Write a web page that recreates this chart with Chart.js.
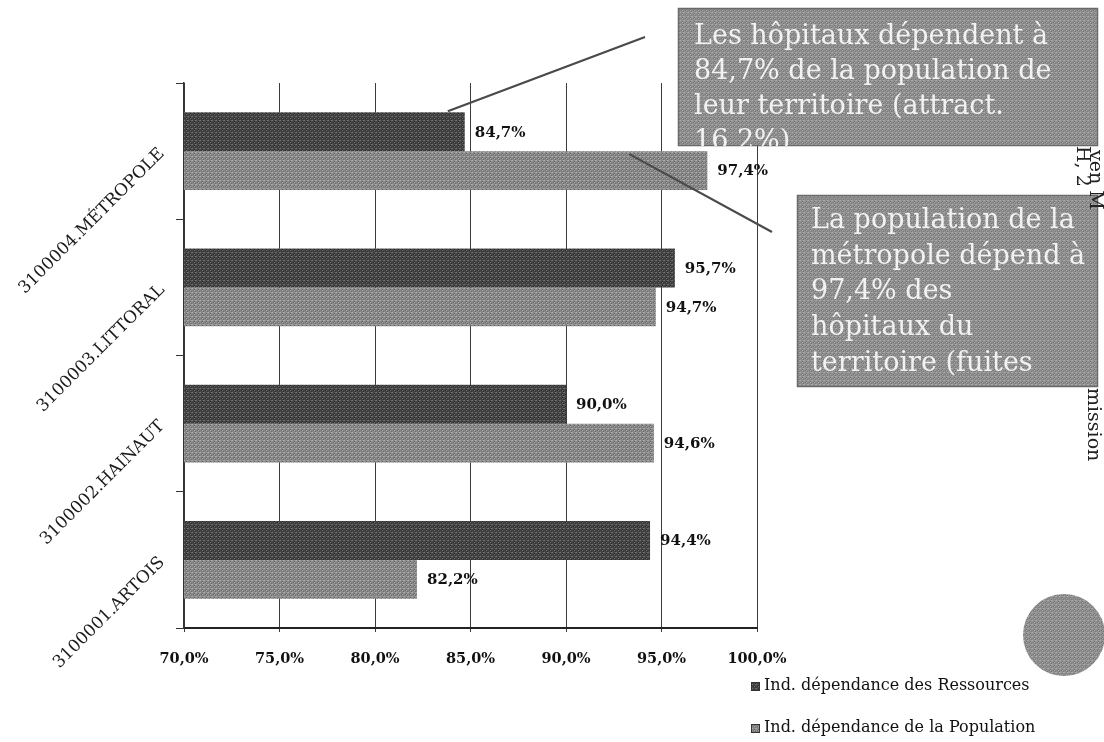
<!DOCTYPE html>
<html lang="fr">
<head>
<meta charset="utf-8">
<title>Indices de dépendance par territoire</title>
<script src="https://cdn.jsdelivr.net/npm/chart.js@4/dist/chart.umd.min.js"></script>
<style>
  html, body { margin: 0; padding: 0; background: #ffffff; }
  #wrap { position: relative; width: 1104px; height: 742px; }
  canvas { display: block; }
</style>
</head>
<body>
<div id="wrap"><canvas id="chart" width="1104" height="742"></canvas></div>
<script>
// Territoires (de haut en bas)
const categories = ['3100004.MÉTROPOLE', '3100003.LITTORAL', '3100002.HAINAUT', '3100001.ARTOIS'];
// Indice de dépendance des ressources (%)
const ressources = [84.7, 95.7, 90.0, 94.4];
// Indice de dépendance de la population (%)
const population = [97.4, 94.7, 94.6, 82.2];
// Graduations de l'axe horizontal (%)
const xTicks = [70, 75, 80, 85, 90, 95, 100];
const seriesNames = ['Ind. dépendance des Ressources', 'Ind. dépendance de la Population'];

// Encadrés de commentaire
const noteAttraction = ['Les hôpitaux dépendent à', '84,7% de la population de', 'leur territoire (attract.', '16,2%)'];
const noteFuites = ['La population de la', 'métropole dépend à', '97,4% des', 'hôpitaux du', 'territoire (fuites'];
// Fragments de texte vertical en marge
const marginText = ['ven M', 'H, 2', 'mission'];

const SERIF = '"DejaVu Serif", "Liberation Serif", serif';

// Trame grise type impression
function makePattern(base, light, dark) {
  const c = document.createElement('canvas');
  c.width = 4; c.height = 4;
  const g = c.getContext('2d');
  g.fillStyle = base; g.fillRect(0, 0, 4, 4);
  g.fillStyle = light;
  g.fillRect(0, 0, 1, 1); g.fillRect(2, 2, 1, 1); g.fillRect(3, 0, 1, 1);
  g.fillStyle = dark;
  g.fillRect(1, 2, 1, 1); g.fillRect(3, 3, 1, 1); g.fillRect(2, 1, 1, 1);
  return g.createPattern(c, 'repeat');
}
const ctx0 = document.getElementById('chart').getContext('2d');
const darkFill = makePattern('#454545', '#6c6c6c', '#2c2c2c');
const lightFill = makePattern('#888888', '#aaaaaa', '#6a6a6a');
const boxFill = makePattern('#8e8e8e', '#a9a9a9', '#767676');

const fmt = v => v.toFixed(1).replace('.', ',') + '%';

// Étiquettes de valeur à droite des barres
const valueLabels = {
  id: 'valueLabels',
  afterDatasetsDraw(chart) {
    const c = chart.ctx;
    c.save();
    c.font = 'bold 15px ' + SERIF;
    c.fillStyle = '#111';
    c.textAlign = 'left';
    c.textBaseline = 'middle';
    chart.data.datasets.forEach((ds, i) => {
      chart.getDatasetMeta(i).data.forEach((bar, j) => {
        c.fillText(fmt(ds.data[j]), bar.x + 10, bar.y + 1);
      });
    });
    c.restore();
  }
};

// Encadrés, traits de rappel, légende et éléments de marge
const decorations = {
  id: 'decorations',
  afterDraw(chart) {
    const c = chart.ctx;
    const barA = chart.getDatasetMeta(0).data[0];
    const barB = chart.getDatasetMeta(1).data[0];

    c.save();
    // traits de rappel
    c.strokeStyle = '#4a4a4a';
    c.lineWidth = 2.2;
    c.beginPath();
    c.moveTo(barA.x - 17, barA.y - barA.height / 2 - 1);
    c.lineTo(645, 37);
    c.stroke();
    c.beginPath();
    c.moveTo(barB.x - 78, barB.y - barB.height / 2 + 3);
    c.lineTo(772, 232);
    c.stroke();

    // encadrés
    function box(x, y, w, h, lines, tx, ty, lh) {
      c.save();
      c.fillStyle = boxFill;
      c.fillRect(x, y, w, h);
      c.strokeStyle = '#6a6a6a';
      c.lineWidth = 1.5;
      c.strokeRect(x + 0.5, y + 0.5, w - 1, h - 1);
      c.beginPath(); c.rect(x, y, w, h); c.clip();
      c.font = '27px ' + SERIF;
      c.fillStyle = '#f2f2f2';
      c.textAlign = 'left';
      c.textBaseline = 'middle';
      lines.forEach((t, k) => c.fillText(t, tx, ty + k * lh));
      c.restore();
    }
    box(678, 8, 420, 138, noteAttraction, 694, 37, 35);
    box(797, 195, 301, 192, noteFuites, 811, 221, 35.7);

    // texte vertical en marge droite
    c.fillStyle = '#222';
    c.font = '19px ' + SERIF;
    c.textBaseline = 'alphabetic';
    c.textAlign = 'left';
    function vtext(t, x, y) {
      c.save(); c.translate(x, y); c.rotate(Math.PI / 2); c.fillText(t, 0, 0); c.restore();
    }
    vtext(marginText[0], 1090, 150);
    vtext(marginText[1], 1077, 146);
    vtext(marginText[2], 1088, 388);

    // pastille grise
    c.beginPath();
    c.arc(1064, 635, 41, 0, Math.PI * 2);
    c.fillStyle = boxFill;
    c.fill();

    // légende
    const fills = [darkFill, lightFill];
    c.font = '16px ' + SERIF;
    c.textBaseline = 'middle';
    chart.data.datasets.forEach((ds, i) => {
      const y = 686 + i * 42;
      c.fillStyle = fills[i];
      c.fillRect(751, y - 4, 9, 9);
      c.strokeStyle = '#333';
      c.lineWidth = 1;
      c.strokeRect(751.5, y - 3.5, 8, 8);
      c.fillStyle = '#111';
      c.fillText(ds.label, 764, y);
    });
    c.restore();
  }
};

new Chart(ctx0, {
  type: 'bar',
  data: {
    labels: categories,
    datasets: [
      { label: seriesNames[0], data: ressources, backgroundColor: darkFill, borderWidth: 0 },
      { label: seriesNames[1], data: population, backgroundColor: lightFill, borderWidth: 0 }
    ]
  },
  options: {
    indexAxis: 'y',
    responsive: false,
    animation: false,
    devicePixelRatio: 1,
    categoryPercentage: 0.57,
    barPercentage: 1.0,
    layout: { padding: { top: 83, right: 347, left: 0, bottom: 0 } },
    plugins: {
      legend: { display: false },
      tooltip: { enabled: false },
      title: { display: false }
    },
    scales: {
      x: {
        type: 'linear',
        min: xTicks[0],
        max: xTicks[xTicks.length - 1],
        afterBuildTicks(scale) { scale.ticks = xTicks.map(v => ({ value: v })); },
        afterFit(scale) { scale.height = 114; },
        grid: { color: '#3c3c3c', lineWidth: 1, drawTicks: true, tickLength: 4 },
        border: { display: true, color: '#222', width: 2 },
        ticks: {
          callback: v => fmt(v),
          font: { family: SERIF, size: 14.5, weight: 'bold' },
          color: '#111',
          padding: 19,
          maxRotation: 0,
          autoSkip: false
        }
      },
      y: {
        type: 'category',
        offset: true,
        afterFit(scale) { scale.width = 184; },
        grid: { offset: true, drawOnChartArea: false, drawTicks: true, tickLength: 8, color: '#333' },
        border: { display: true, color: '#333', width: 1.5 },
        ticks: {
          minRotation: 45,
          maxRotation: 45,
          padding: 14,
          font: { family: SERIF, size: 17 },
          color: '#1a1a1a'
        }
      }
    }
  },
  plugins: [valueLabels, decorations]
});
</script>
</body>
</html>
